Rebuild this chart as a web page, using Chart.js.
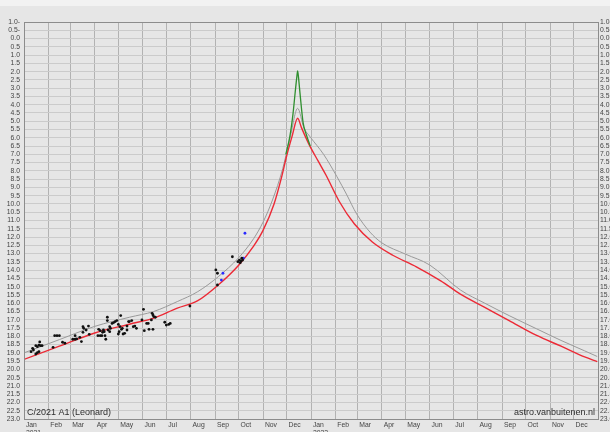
<!DOCTYPE html>
<html>
<head>
<meta charset="utf-8">
<script src="https://cdn.jsdelivr.net/npm/chart.js@4.4.0/dist/chart.umd.min.js"></script>
<style>
  html, body { margin: 0; padding: 0; background: #e6e6e6; }
  #contenitore { width: 610px; height: 432px; position: relative; }
</style>
</head>
<body>
<div id="contenitore"><canvas id="graficoCometa"></canvas></div>
<script>
// curva prevista (rossa)
const dateRossa = ['2021-01-01','2021-02-15','2021-04-01','2021-05-15','2021-06-15','2021-07-15','2021-08-10',
    '2021-09-05','2021-10-01','2021-10-20','2021-11-01','2021-11-15','2021-11-25','2021-12-01','2021-12-08',
    '2021-12-15','2021-12-20','2021-12-29','2022-01-10','2022-01-20','2022-02-06','2022-02-25','2022-03-20',
    '2022-04-15','2022-05-15','2022-06-15','2022-07-10','2022-08-10','2022-09-10','2022-10-15','2022-11-15',
    '2022-12-15','2022-12-31'];
const magRossa = [19.4, 18.6, 17.8, 17.27, 16.9, 16.3, 15.85,
    14.9, 13.7, 12.55, 11.6, 10.0, 8.3, 7.1, 5.9,
    4.82, 5.4, 6.35, 7.4, 8.25, 9.85, 11.2, 12.3,
    13.1, 13.8, 14.65, 15.45, 16.25, 17.05, 17.95, 18.6,
    19.25, 19.53];

// curva grigia
const dateGrigia = ['2021-01-01','2021-02-15','2021-04-01','2021-05-15','2021-06-15','2021-07-15','2021-08-10',
    '2021-09-05','2021-10-01','2021-10-20','2021-11-01','2021-11-13','2021-11-26','2021-12-06','2021-12-15',
    '2021-12-23','2021-12-31','2022-01-17','2022-02-03','2022-02-15','2022-02-28','2022-03-17','2022-04-01',
    '2022-05-01','2022-06-01','2022-07-10','2022-08-10','2022-09-10','2022-10-15','2022-11-15','2022-12-15',
    '2022-12-31'];
const magGrigia = [19.0, 18.2, 17.4, 16.85, 16.5, 15.9, 15.3,
    14.4, 13.25, 12.1, 11.1, 9.76, 7.87, 5.86, 4.22,
    5.4, 5.95, 7.0, 8.35, 9.4, 10.6, 11.7, 12.35,
    13.03, 13.69, 15.2, 16.0, 16.75, 17.55, 18.25, 18.88,
    19.22];

// picco di forward scattering (verde)
const dateVerde = ['2021-11-30','2021-12-05','2021-12-09','2021-12-12','2021-12-14','2021-12-15','2021-12-16',
    '2021-12-18','2021-12-22','2021-12-26','2021-12-31'];
const magVerde = [7.0, 5.95, 4.6, 3.2, 2.3, 1.95, 2.3, 3.3, 5.1, 5.8, 6.5];

// osservazioni (giorni dal 1 gen 2021)
const giorniOss = [9, 11, 12, 15, 17, 20, 19, 21, 23, 15, 17, 19, 37, 39, 42, 45, 49, 52, 62, 65, 67, 65, 71, 73,
    75, 75, 76, 79, 82, 83, 95, 94, 97, 97, 99, 100, 101, 102, 103, 104, 106, 106, 107, 109, 109, 110,
    112, 114, 116, 118, 120, 121, 120, 122, 123, 124, 125, 126, 128, 131, 131, 133, 134, 137, 139, 141, 143,
    150, 152, 153, 156, 158, 159, 162, 163, 164, 165, 164, 167, 179, 181, 184, 186, 211,
    244, 246, 246, 265, 272, 275, 276, 278, 274, 277];
const magOss = [18.93, 18.73, 18.83, 18.57, 18.63, 18.34, 18.53, 18.57, 18.57, 19.07, 18.99, 18.93, 18.67, 17.96,
    17.96, 17.96, 18.36, 18.42, 18.18, 18.18, 18.16, 17.96, 18.06, 18.32,
    17.76, 17.42, 17.52, 17.62, 17.38, 17.88, 17.58, 17.96, 17.66, 17.96, 17.96, 17.76, 17.62, 17.72, 17.96, 18.18,
    16.85, 17.05, 17.62, 17.42, 17.72, 17.52,
    17.22, 17.17, 17.11, 17.05, 17.28, 17.72, 17.86, 17.42, 16.75, 17.58, 17.52, 17.86, 17.82, 17.62, 17.38, 17.11,
    17.11, 17.05, 17.42, 17.38, 17.52,
    17.01, 16.37, 17.66, 17.22, 17.22, 17.58, 17.01, 16.61, 16.71, 16.81, 17.58, 16.85, 17.15, 17.32, 17.28, 17.22,
    16.17, 13.99, 14.19, 14.9, 13.19, 13.49, 13.55, 13.45, 13.39, 13.39, 13.28];

// osservazioni blu
const giorniBlu = [251, 253, 279, 281];
const magBlu = [14.6, 14.19, 13.28, 11.77];

const nomiMesi = ['Jan','Feb','Mar','Apr','May','Jun','Jul','Aug','Sep','Oct','Nov','Dec'];
const anni = [2021, 2022];

const inizio = Date.UTC(2021, 0, 1);
function giorno(s) {
    const p = s.split('-');
    return (Date.UTC(+p[0], +p[1] - 1, +p[2]) - inizio) / 86400000;
}
function punti(date, mags) {
    return date.map((d, i) => ({ x: giorno(d), y: mags[i] }));
}

const inizioMesi = [];
const etichetteMesi = [];
anni.forEach(a => {
    nomiMesi.forEach((m, i) => {
        inizioMesi.push((Date.UTC(a, i, 1) - inizio) / 86400000);
        etichetteMesi.push(i === 0 ? [' ' + m, ' ' + a] : ' ' + m);
    });
});
const fineAsse = (Date.UTC(2023, 0, 1) - inizio) / 86400000;

function etichettaMag(v) {
    return v < 0 ? Math.abs(v).toFixed(1) + '-' : v.toFixed(1);
}

const sfondo = {
    id: 'sfondo',
    beforeDraw(chart) {
        const ctx = chart.ctx;
        ctx.save();
        ctx.fillStyle = '#e6e6e6';
        ctx.fillRect(0, 0, chart.width, chart.height);
        ctx.fillStyle = '#f2f2f2';
        ctx.fillRect(0, 0, chart.width, 6);
        ctx.restore();
    },
    afterDraw(chart) {
        const ctx = chart.ctx;
        const a = chart.chartArea;
        ctx.save();
        ctx.strokeStyle = '#8c8c8c';
        ctx.lineWidth = 1;
        ctx.strokeRect(Math.round(a.left) + 0.5, Math.round(a.top) + 0.5,
            Math.round(a.right - a.left), Math.round(a.bottom - a.top));
        ctx.fillStyle = '#2e2e2e';
        ctx.font = '9px "Liberation Sans", Arial, sans-serif';
        ctx.textBaseline = 'alphabetic';
        ctx.textAlign = 'left';
        ctx.fillText('C/2021 A1 (Leonard)', a.left + 3, a.bottom - 4);
        ctx.textAlign = 'right';
        ctx.fillText('astro.vanbuitenen.nl', a.right - 3, a.bottom - 4);
        ctx.restore();
    }
};

const fontTick = { family: '"Liberation Sans", Arial, sans-serif', size: 6.8 };

const ctx = document.getElementById('graficoCometa').getContext('2d');
new Chart(ctx, {
    type: 'scatter',
    data: {
        datasets: [
            {
                label: 'Osservazioni',
                data: giorniOss.map((g, i) => ({ x: g, y: magOss[i] })),
                backgroundColor: '#111111',
                borderWidth: 0,
                pointRadius: 1.4
            },
            {
                label: 'Osservazioni blu',
                data: giorniBlu.map((g, i) => ({ x: g, y: magBlu[i] })),
                backgroundColor: '#2a2aff',
                borderWidth: 0,
                pointRadius: 1.4
            },
            {
                label: 'Verde',
                data: punti(dateVerde, magVerde),
                showLine: true,
                borderColor: '#2f8f2f',
                borderWidth: 1.3,
                pointRadius: 0,
                cubicInterpolationMode: 'monotone'
            },
            {
                label: 'Rossa',
                data: punti(dateRossa, magRossa),
                showLine: true,
                borderColor: '#ec2a36',
                borderWidth: 1.4,
                pointRadius: 0,
                cubicInterpolationMode: 'monotone'
            },
            {
                label: 'Grigia',
                data: punti(dateGrigia, magGrigia),
                showLine: true,
                borderColor: '#9a9a9a',
                borderWidth: 1,
                pointRadius: 0,
                cubicInterpolationMode: 'monotone'
            }
        ]
    },
    options: {
        responsive: true,
        maintainAspectRatio: false,
        animation: false,
        layout: { padding: { top: 22, left: 0, right: 0, bottom: 0 } },
        plugins: {
            legend: { display: false },
            tooltip: { enabled: false }
        },
        scales: {
            x: {
                type: 'linear',
                position: 'bottom',
                min: 0,
                max: fineAsse,
                afterBuildTicks: scale => {
                    scale.ticks = inizioMesi.map(v => ({ value: v }));
                },
                afterFit: scale => { scale.height = 13; },
                ticks: {
                    autoSkip: false,
                    maxRotation: 0,
                    align: 'start',
                    padding: 2,
                    color: '#444444',
                    font: fontTick,
                    callback: (value, index) => etichetteMesi[index]
                },
                grid: { color: '#b2b2b2', drawTicks: false },
                border: { color: '#8c8c8c' }
            },
            y: {
                type: 'linear',
                position: 'left',
                reverse: true,
                min: -1,
                max: 23,
                afterFit: scale => { scale.width = 24; },
                ticks: {
                    stepSize: 0.5,
                    autoSkip: false,
                    maxTicksLimit: 100,
                    padding: 4,
                    color: '#444444',
                    font: fontTick,
                    callback: etichettaMag
                },
                grid: { color: '#cbcbcb', drawTicks: false },
                border: { color: '#8c8c8c' }
            },
            y2: {
                type: 'linear',
                position: 'right',
                reverse: true,
                min: -1,
                max: 23,
                afterFit: scale => { scale.width = 12; },
                ticks: {
                    stepSize: 0.5,
                    autoSkip: false,
                    maxTicksLimit: 100,
                    padding: 2,
                    color: '#444444',
                    font: fontTick,
                    callback: etichettaMag
                },
                grid: { display: false, drawTicks: false },
                border: { color: '#8c8c8c' }
            }
        }
    },
    plugins: [sfondo]
});
</script>
</body>
</html>
